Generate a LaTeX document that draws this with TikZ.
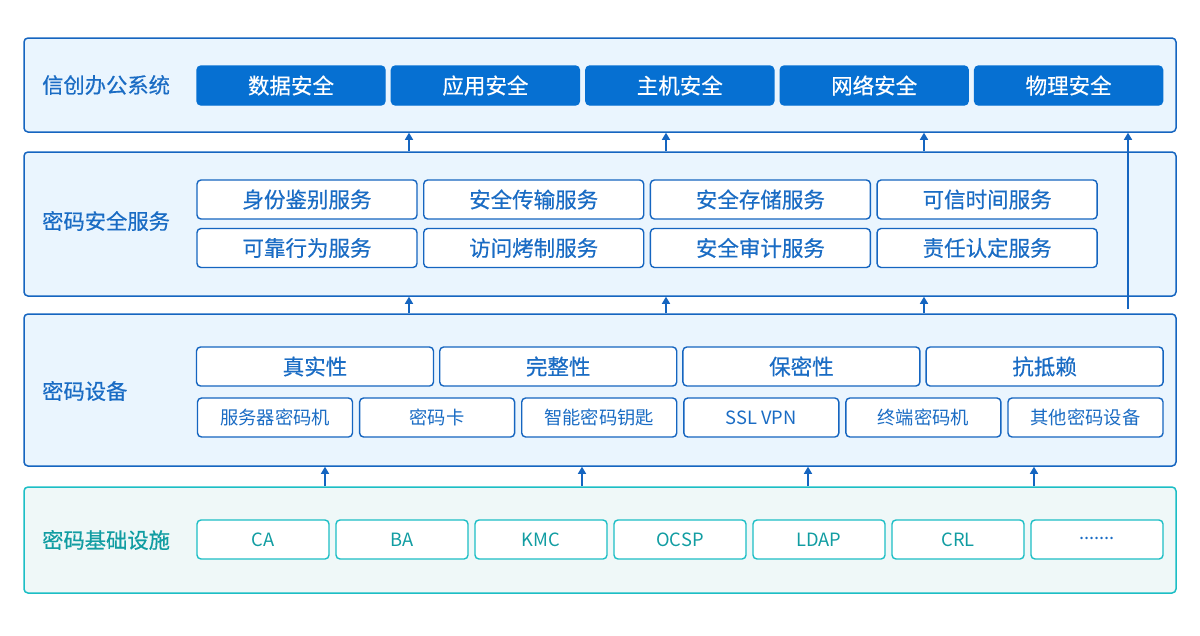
\documentclass[tikz,border=0pt]{standalone}
\usepackage{fontspec}
\setmainfont{Noto Sans CJK SC}
\newfontfamily\medfont{Noto Sans CJK SC}[FakeBold=0.5]
\usetikzlibrary{arrows.meta,positioning}
\definecolor{lineblue}{HTML}{1565C0}
\definecolor{txtblue}{HTML}{1A6CC4}
\definecolor{boxblue}{HTML}{0670D2}
\definecolor{layerfill}{HTML}{EAF5FE}
\definecolor{lineteal}{HTML}{1CBEC5}
\definecolor{tealfill}{HTML}{EFF8F8}
\definecolor{txtteal}{HTML}{119DA2}

\begin{document}
\begin{tikzpicture}[x=1pt,y=-1pt,
  layer/.style={draw=lineblue,fill=layerfill,line width=1.5pt,rounded corners=4pt,inner sep=0pt},
  tlayer/.style={layer,draw=lineteal,fill=tealfill},
  title/.style={anchor=west,inner sep=0pt,text=txtblue,font=\medfont\fontsize{21.3}{24}\selectfont},
  cell/.style={draw=lineblue,fill=white,line width=1.4pt,rounded corners=4pt,
    text=txtblue,inner sep=0pt,minimum height=39pt,font=\medfont\fontsize{21.5}{24}\selectfont},
  solid cell/.style={cell,fill=boxblue,draw=boxblue,text=white},
  small cell/.style={cell,font=\fontsize{18.3}{20}\selectfont},
  teal cell/.style={cell,draw=lineteal,text=txtteal,font=\fontsize{18.3}{20}\selectfont},
  arr/.style={draw=lineblue,line width=1.4pt,-{Triangle[length=7pt,width=8pt]}}]
  \useasboundingbox (0,0) rectangle (1200,635);

  % layers
  \node[layer,minimum width=1152pt,minimum height=94pt] (L1) at (600,85) {};
  \node[layer,minimum width=1152pt,minimum height=144pt] (L2) at (600,224) {};
  \node[layer,minimum width=1152pt,minimum height=152pt] (L3) at (600,390) {};
  \node[tlayer,minimum width=1152pt,minimum height=106pt] (L4) at (600,540) {};

  \node[title] (t1) at (42,85) {信创办公系统};
  \node[title] (t2) at (42,221) {密码安全服务};
  \node[title] (t3) at (42,391) {密码设备};
  \node[title,text=txtteal] (t4) at (42,540) {密码基础设施};

  % top row
  \foreach \name [count=\i from 0] in {数据安全,应用安全,主机安全,网络安全,物理安全} {
    \node[solid cell,minimum width=188pt] (a\i) at (291+194.4*\i,85.5) {\name};
  }

  % services
  \foreach \name [count=\i from 0] in {身份鉴别服务,安全传输服务,安全存储服务,可信时间服务} {
    \node[cell,minimum width=220pt] (s\i) at (307+226.7*\i,199.5) {\name};
  }
  \foreach \name [count=\i from 0] in {可靠行为服务,访问烤制服务,安全审计服务,责任认定服务} {
    \node[cell,minimum width=220pt] (r\i) at (307+226.7*\i,248) {\name};
  }

  % devices
  \foreach \name [count=\i from 0] in {真实性,完整性,保密性,抗抵赖} {
    \node[cell,minimum width=237pt] (p\i) at (315+243.2*\i,366.5) {\name};
  }
  \foreach \name [count=\i from 0] in {服务器密码机,密码卡,智能密码钥匙,SSL VPN,终端密码机,其他密码设备} {
    \node[small cell,minimum width=155pt] (d\i) at (275+162.1*\i,417.5) {\name};
  }

  % infrastructure
  \foreach \name [count=\i from 0] in {CA,BA,KMC,OCSP,LDAP,CRL} {
    \node[teal cell,minimum width=132pt] (c\i) at (263+139*\i,539.5) {\name};
  }
  \node[teal cell,minimum width=132pt,text=txtblue] (c6) at (1097,539.5) {\raisebox{3pt}{.......}};

  % arrows
  \foreach \x in {409,666,924} {
    \draw[arr] (L2.north -| \x,0) -- (L1.south -| \x,0);
    \draw[arr] (L3.north -| \x,0) -- (L2.south -| \x,0);
  }
  \draw[arr] ([yshift=4pt]L3.north -| 1128,0) -- (L1.south -| 1128,0);
  \foreach \x in {325,582,808,1034} {
    \draw[arr] (L4.north -| \x,0) -- (L3.south -| \x,0);
  }
\end{tikzpicture}
\end{document}
